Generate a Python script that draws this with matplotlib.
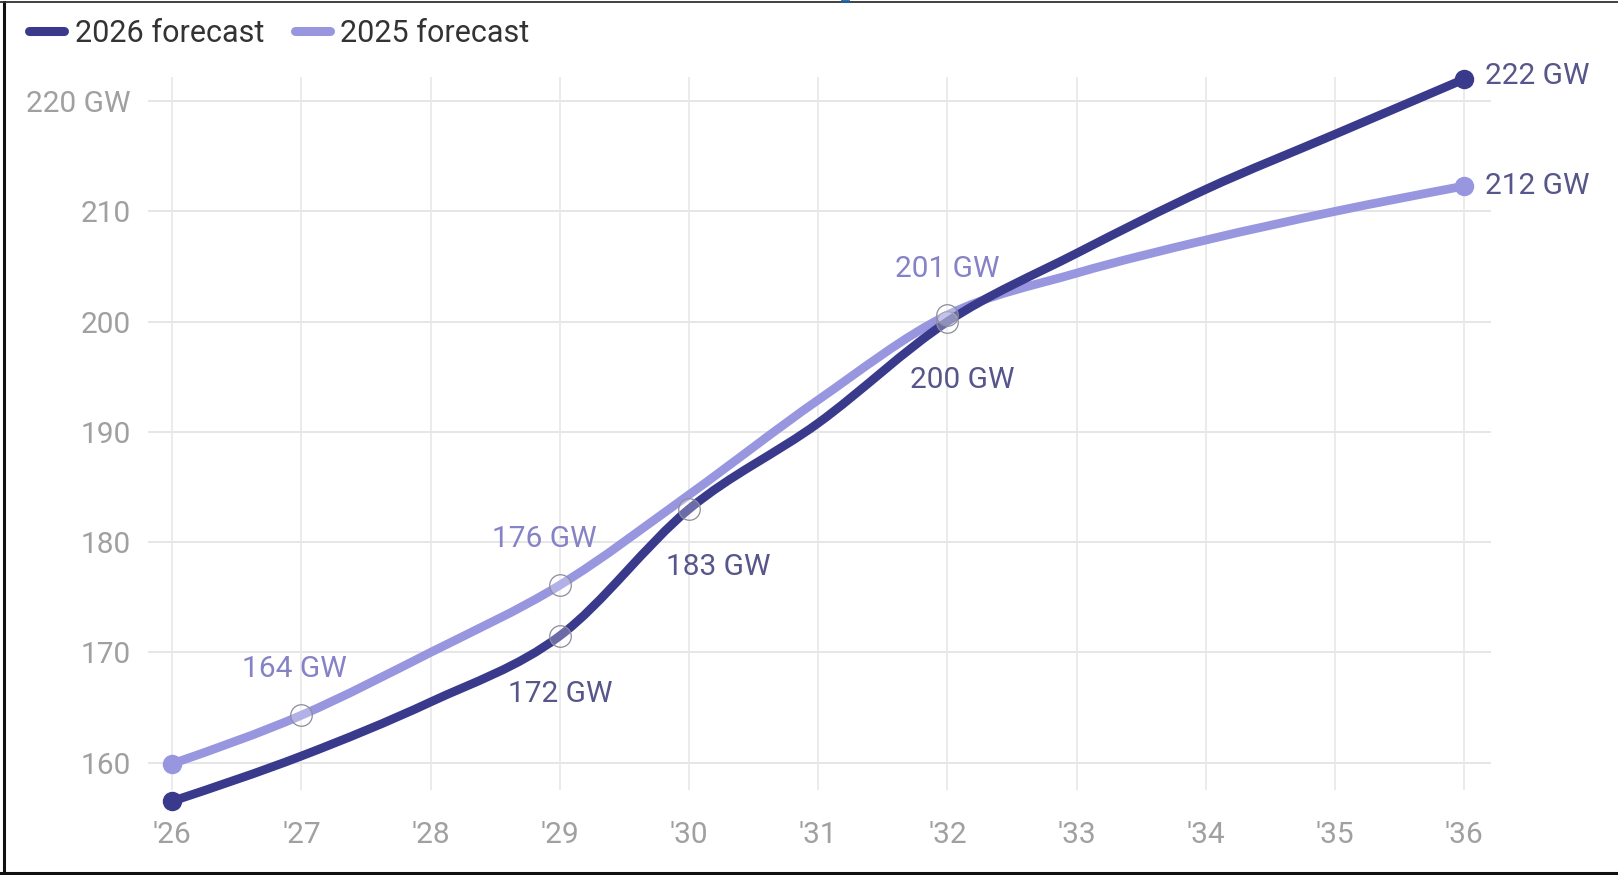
import matplotlib
matplotlib.use("Agg")
import matplotlib.pyplot as plt
import numpy as np
from matplotlib.path import Path
from matplotlib.patches import PathPatch
from matplotlib.lines import Line2D

plt.rcParams['font.family'] = ['Roboto', 'DejaVu Sans']

# ---- data ----
years = [26, 27, 28, 29, 30, 31, 32, 33, 34, 35, 36]
xtick_labels = ["'26", "'27", "'28", "'29", "'30", "'31", "'32", "'33", "'34", "'35", "'36"]
forecast_2026 = [156.5, 160.6, 165.5, 171.5, 183.0, 190.8, 200.0, 206.2, 212.0, 217.0, 222.0]
forecast_2025 = [159.9, 164.3, 170.0, 176.1, 184.3, 192.9, 200.6, 204.4, 207.4, 210.0, 212.3]
series_names = ["2026 forecast", "2025 forecast"]
yticks = [160, 170, 180, 190, 200, 210, 220]
ytick_labels = ["160", "170", "180", "190", "200", "210", "220 GW"]
# labelled points: (year index, text)
labels_2026 = [(3, "172 GW"), (4, "183 GW"), (6, "200 GW"), (10, "222 GW")]
labels_2025 = [(1, "164 GW"), (3, "176 GW"), (6, "201 GW"), (10, "212 GW")]

DARK = "#3a3a8c"
LIGHT = "#9896df"
DARK_TXT = "#56568a"
LIGHT_TXT = "#8583c6"


def monotone_path(xs, ys):
    xs = np.asarray(xs, float)
    ys = np.asarray(ys, float)
    n = len(xs)
    h = np.diff(xs)
    s = np.diff(ys) / h
    t = np.zeros(n)
    for i in range(1, n - 1):
        s0, s1 = s[i - 1], s[i]
        p = (s0 * h[i] + s1 * h[i - 1]) / (h[i - 1] + h[i])
        t[i] = (np.sign(s0) + np.sign(s1)) * min(abs(s0), abs(s1), 0.5 * abs(p))
    t[0] = (3 * s[0] - t[1]) / 2
    t[-1] = (3 * s[-1] - t[-2]) / 2
    verts = [(xs[0], ys[0])]
    codes = [Path.MOVETO]
    for i in range(n - 1):
        dx = (xs[i + 1] - xs[i]) / 3
        verts += [(xs[i] + dx, ys[i] + dx * t[i]),
                  (xs[i + 1] - dx, ys[i + 1] - dx * t[i + 1]),
                  (xs[i + 1], ys[i + 1])]
        codes += [Path.CURVE4] * 3
    return Path(verts, codes)


fig = plt.figure(figsize=(16.18, 8.75), dpi=100)
ax = fig.add_axes([0.0912, 0.0977, 0.8303, 0.8138])
ax.set_xlim(25.809, 36.207)
ax.set_ylim(157.56, 222.15)

for sp in ax.spines.values():
    sp.set_visible(False)

for y in yticks:
    ax.axhline(y, color="#e6e6e6", lw=1.4, zorder=0)
for x in years:
    ax.axvline(x, color="#e8e8e8", lw=1.2, zorder=0)

ax.set_xticks(years)
ax.set_xticklabels(xtick_labels)
ax.set_yticks(yticks)
ax.set_yticklabels(ytick_labels)
ax.tick_params(axis="both", length=0, colors="#a0a0a0", labelsize=21.5)
ax.tick_params(axis="y", pad=12)
ax.tick_params(axis="x", pad=23)

# lines
for vals, col, z in [(forecast_2025, LIGHT, 2), (forecast_2026, DARK, 3)]:
    patch = PathPatch(monotone_path(years, vals), facecolor="none", edgecolor=col,
                      lw=6.3, capstyle="round", joinstyle="round", zorder=z, clip_on=False)
    ax.add_patch(patch)
    ax.plot([years[0], years[-1]], [vals[0], vals[-1]], "o", color=col, ms=13,
            zorder=z + 0.5, clip_on=False, ls="none")

# hollow markers at labelled interior points
for vals, labs in [(forecast_2026, labels_2026), (forecast_2025, labels_2025)]:
    for i, _ in labs:
        if i in (0, len(years) - 1):
            continue
        ax.plot(years[i], vals[i], "o", ms=15.5, mfc=(1, 1, 1, 0.25), mec="#8c8c9c",
                mew=0.9, zorder=6, clip_on=False, ls="none")

# data labels
fs = 21.5
for i, txt in labels_2026:
    x, y = years[i], forecast_2026[i]
    if i == len(years) - 1:
        ax.annotate(txt, (x, y), xytext=(15, 2), textcoords="offset points",
                    ha="left", va="center", color=DARK_TXT, fontsize=fs)
    else:
        dx = {3: 0, 4: 21, 6: 11}[i]
        ax.annotate(txt, (x, y), xytext=(dx, -42), textcoords="offset points",
                    ha="center", va="center", color=DARK_TXT, fontsize=fs)
for i, txt in labels_2025:
    x, y = years[i], forecast_2025[i]
    if i == len(years) - 1:
        ax.annotate(txt, (x, y), xytext=(15, 0), textcoords="offset points",
                    ha="left", va="center", color=DARK_TXT, fontsize=fs)
    else:
        dx = {1: -5, 3: -11, 6: 0}[i]
        ax.annotate(txt, (x, y), xytext=(dx, 33), textcoords="offset points",
                    ha="center", va="center", color=LIGHT_TXT, fontsize=fs)

# legend
handles = [Line2D([0], [0], color=DARK, lw=6.5, solid_capstyle="round"),
           Line2D([0], [0], color=LIGHT, lw=6.5, solid_capstyle="round")]
fig.legend(handles, series_names, loc="center left", bbox_to_anchor=(0.014, 0.962),
           ncol=2, frameon=False, fontsize=22, handlelength=1.15, handletextpad=0.35,
           columnspacing=1.0, labelcolor="#333333", borderaxespad=0, borderpad=0.2)

# outer frame
fig.add_artist(Line2D([0.0025, 0.0025], [0.002, 0.998], transform=fig.transFigure, color="#111111", lw=2.2))
fig.add_artist(Line2D([0.0, 1.0], [0.998, 0.998], transform=fig.transFigure, color="#333333", lw=1.3))
fig.add_artist(Line2D([0.0, 1.0], [0.0025, 0.0025], transform=fig.transFigure, color="#111111", lw=2.2))
fig.add_artist(Line2D([0.5205, 0.524], [0.999, 0.999], transform=fig.transFigure, color="#1f5f9f", lw=2.0))

fig.savefig("out.png", dpi=100, facecolor="white")
